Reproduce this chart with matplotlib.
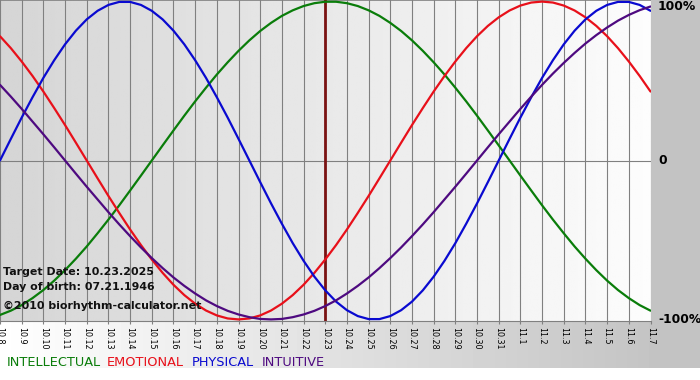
import matplotlib
matplotlib.use('Agg')
import matplotlib.pyplot as plt
import numpy as np

# days shown on the chart (month.day)
dates = ['10.8', '10.9', '10.10', '10.11', '10.12', '10.13', '10.14', '10.15',
         '10.16', '10.17', '10.18', '10.19', '10.20', '10.21', '10.22', '10.23',
         '10.24', '10.25', '10.26', '10.27', '10.28', '10.29', '10.30', '10.31',
         '11.1', '11.2', '11.3', '11.4', '11.5', '11.6', '11.7']

# cycle values read every half day, from 10.8 to 11.7 (fraction of 100%)
physical = [0.000, 0.136, 0.270, 0.398, 0.520, 0.631, 0.731, 0.817, 0.888,
            0.942, 0.979, 0.998, 0.998, 0.979, 0.942, 0.888, 0.817, 0.731,
            0.631, 0.520, 0.398, 0.270, 0.136, 0.000, -0.136, -0.270, -0.398,
            -0.520, -0.631, -0.731, -0.817, -0.888, -0.942, -0.979, -0.998,
            -0.998, -0.979, -0.942, -0.888, -0.817, -0.731, -0.631, -0.520,
            -0.398, -0.270, -0.136, 0.000, 0.136, 0.270, 0.398, 0.520, 0.631,
            0.731, 0.817, 0.888, 0.942, 0.979, 0.998, 0.998, 0.979, 0.942]
emotional = [0.782, 0.707, 0.623, 0.532, 0.434, 0.330, 0.223, 0.112, 0.000,
             -0.112, -0.223, -0.330, -0.434, -0.532, -0.623, -0.707, -0.782,
             -0.847, -0.901, -0.944, -0.975, -0.994, -1.000, -0.994, -0.975,
             -0.944, -0.901, -0.847, -0.782, -0.707, -0.623, -0.532, -0.434,
             -0.330, -0.223, -0.112, 0.000, 0.112, 0.223, 0.330, 0.434, 0.532,
             0.623, 0.707, 0.782, 0.847, 0.901, 0.944, 0.975, 0.994, 1.000,
             0.994, 0.975, 0.944, 0.901, 0.847, 0.782, 0.707, 0.623, 0.532,
             0.434]
intellectual = [-0.972, -0.945, -0.910, -0.866, -0.815, -0.756, -0.690, -0.618,
                -0.541, -0.458, -0.372, -0.282, -0.189, -0.095, 0.000, 0.095,
                0.189, 0.282, 0.372, 0.458, 0.541, 0.618, 0.690, 0.756, 0.815,
                0.866, 0.910, 0.945, 0.972, 0.990, 0.999, 0.999, 0.990, 0.972,
                0.945, 0.910, 0.866, 0.815, 0.756, 0.690, 0.618, 0.541, 0.458,
                0.372, 0.282, 0.189, 0.095, 0.000, -0.095, -0.189, -0.282,
                -0.372, -0.458, -0.541, -0.618, -0.690, -0.756, -0.815, -0.866,
                -0.910, -0.945]
intuitive = [0.476, 0.402, 0.325, 0.245, 0.165, 0.083, 0.000, -0.083, -0.165,
             -0.245, -0.325, -0.402, -0.476, -0.547, -0.614, -0.677, -0.736,
             -0.789, -0.837, -0.880, -0.916, -0.946, -0.969, -0.986, -0.997,
             -1.000, -0.997, -0.986, -0.969, -0.946, -0.916, -0.880, -0.837,
             -0.789, -0.736, -0.677, -0.614, -0.547, -0.476, -0.402, -0.325,
             -0.245, -0.165, -0.083, 0.000, 0.083, 0.165, 0.245, 0.325, 0.402,
             0.476, 0.547, 0.614, 0.677, 0.736, 0.789, 0.837, 0.880, 0.916,
             0.946, 0.969]

target_date = '10.23'
info_lines = ['Target Date: 10.23.2025', 'Day of birth: 07.21.1946',
              '\u00a92010 biorhythm-calculator.net']
y_labels = ['100%', '0', '-100%']
y_values = [1, 0, -1]
legend_names = ['INTELLECTUAL', 'EMOTIONAL', 'PHYSICAL', 'INTUITIVE']

plt.rcParams['font.family'] = ['DejaVu Sans']

W, H = 700, 380
fig = plt.figure(figsize=(W / 100, H / 100), dpi=100)
fig.patch.set_facecolor('white')

# gray gradient behind everything (white strip left at the bottom)
bg = fig.add_axes([0, 12 / H, 1, 1 - 12 / H])
bg.set_axis_off()
cols = np.arange(W)
shade = np.clip(255 - 59 * cols / 651, 196, 255) / 255
bg.imshow(np.tile(shade, (2, 1)), cmap='gray', vmin=0, vmax=1, aspect='auto',
          extent=[0, 1, 0, 1])
bg.set_xlim(0, 1)
bg.set_ylim(0, 1)

ax = fig.add_axes([0, (H - 321) / H, 650.5 / W, 321 / H])
x = np.arange(len(dates))
xh = np.arange(len(physical)) / 2
ax.set_xlim(0, len(dates) - 1)
ax.set_ylim(-1.01, 1.01)

# plot area gradient
grad = np.linspace(0.835, 0.99, 300)
ax.imshow(np.tile(grad, (2, 1)), cmap='gray', vmin=0, vmax=1, aspect='auto',
          extent=[0, len(dates) - 1, -1.01, 1.01], zorder=0)

for xi in x:
    ax.axvline(xi, color='#808080', lw=0.8, zorder=1)
ax.axhline(0, color='#808080', lw=0.8, zorder=1)
ax.axhline(1.01, color='#808080', lw=1.2, zorder=1)

ti = dates.index(target_date)
ax.axvline(ti, color='#7a1212', lw=2.0, zorder=2)

colors = ['#0a7d0a', '#e8101a', '#0a0ad0', '#4e0a80']
for vals, c in zip([intellectual, emotional, physical, intuitive], colors):
    ax.plot(xh, vals, color=c, lw=1.6, zorder=3, solid_capstyle='round')

for s in ['top', 'left', 'right']:
    ax.spines[s].set_visible(False)
ax.spines['bottom'].set_color('#808080')
ax.spines['bottom'].set_linewidth(0.8)

ax.set_xticks(x)
ax.set_xticklabels(dates, rotation=270, fontsize=5.8)
ax.tick_params(axis='x', length=2.5, color='#808080', width=0.8, pad=1.5)
ax.set_yticks([])

# labels on the right side
for lab, v in zip(y_labels, y_values):
    yy = ax.transData.transform((0, v))[1] / H
    if v == 1:
        yy = 1 - 7 / H
    fig.text(658 / W, yy, lab, fontsize=8.9, fontweight='bold', va='center',
             ha='left')

# target / birth info
for txt, ypix in zip(info_lines, [272, 287, 306]):
    fig.text(3 / W, 1 - ypix / H, txt, fontsize=7.9, fontweight='bold',
             va='center', ha='left', color='#111111')

# legend text
legend_x = [7, 107, 192, 262]
for name, c, lx in zip(legend_names, colors, legend_x):
    fig.text(lx / W, 1 - 362 / H, name, fontsize=9.3, color=c, va='center',
             ha='left')

fig.savefig('out.png', dpi=100)
